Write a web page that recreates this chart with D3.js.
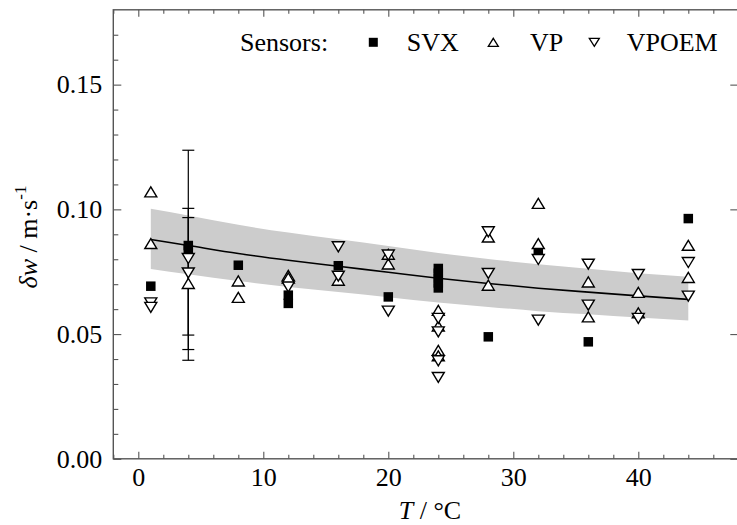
<!DOCTYPE html>
<html><head><meta charset="utf-8">
<script src="https://cdn.jsdelivr.net/npm/d3@7"></script>
<style>
body{margin:0;background:#fff}
svg{display:block}
svg text{font-family:'Liberation Serif','Times New Roman',Times,serif !important}
</style>
</head><body>
<svg id="c" width="737" height="525"></svg>
<script>
// ---------- data ----------
const fitT     = [1, 4, 8, 12, 16, 20, 24, 28, 32, 36, 40, 44];
const fitLine  = [0.0879,0.0855,0.0823,0.0796,0.0772,0.0748,0.0724,0.0703,0.0684,0.0668,0.0653,0.0639];
const fitUpper = [0.1002,0.0975,0.0938,0.0907,0.0880,0.0853,0.0825,0.0801,0.0780,0.0762,0.0744,0.0730];
const fitLower = [0.0761,0.0740,0.0713,0.0689,0.0669,0.0648,0.0627,0.0609,0.0592,0.0579,0.0566,0.0554];

const svx = [[1,0.0692],[4,0.0855],[4,0.0840],[8,0.0776],[12,0.0656],[12,0.0623],[16,0.0774],[20,0.0649],
  [24,0.0763],[24,0.0744],[24,0.0724],[24,0.0705],[24,0.0685],[28,0.0489],[32,0.0830],[36,0.0469],[44,0.0963]];
const vp = [[1,0.1070],[1,0.0863],[4,0.0703],[8,0.0713],[8,0.0647],[12,0.0735],[12,0.0725],[16,0.0716],
  [20,0.0820],[20,0.0781],[24,0.0595],[24,0.0532],[24,0.0435],[24,0.0413],[28,0.0889],[28,0.0696],
  [32,0.1024],[32,0.0863],[36,0.0709],[36,0.0569],[40,0.0667],[40,0.0585],[44,0.0856],[44,0.0727]];
const vpoem = [[1,0.0625],[1,0.0607],[4,0.0803],[4,0.0745],[12,0.0689],[16,0.0850],[16,0.0732],
  [20,0.0817],[20,0.0592],[24,0.0563],[24,0.0509],[24,0.0393],[24,0.0326],[28,0.0910],[28,0.0743],
  [32,0.0799],[32,0.0556],[36,0.0780],[36,0.0616],[40,0.0739],[40,0.0563],[44,0.0787],[44,0.0652]];

const errT    = [4, 4, 4];
const errLow  = [0.0395, 0.0438, 0.0496];
const errHigh = [0.1237, 0.1004, 0.0967];

const xTicks = [0, 10, 20, 30, 40];
const xMinor = [-2,2,4,6,8,12,14,16,18,22,24,26,28,32,34,36,38,42,44,46,48];
const yTicks = [0.00, 0.05, 0.10, 0.15];
const yMinor = [0.01,0.02,0.03,0.04,0.06,0.07,0.08,0.09,0.11,0.12,0.13,0.14,0.16,0.17];

const legendLabels = ["SVX", "VP", "VPOEM"];

// ---------- chart ----------
const FONT = "'Liberation Serif','Times New Roman',Times,serif";
const svg = d3.select("#c");
const x = d3.scaleLinear().domain([-2, 48]).range([113.3, 738.3]);
const y = d3.scaleLinear().domain([0, 0.18]).range([458.8, 9.8]);
const FS = 26;
const axisColor = "#555";

// band
const bandData = fitT.map((t, i) => ({t, lo: fitLower[i], hi: fitUpper[i], m: fitLine[i]}));
svg.append("path").datum(bandData)
  .attr("fill", "#cccccc")
  .attr("d", d3.area().x(d => x(d.t)).y0(d => y(d.lo)).y1(d => y(d.hi)).curve(d3.curveMonotoneX));
svg.append("path").datum(bandData)
  .attr("fill", "none").attr("stroke", "#000").attr("stroke-width", 1.6)
  .attr("d", d3.line().x(d => x(d.t)).y(d => y(d.m)).curve(d3.curveMonotoneX));

// error bars
const errData = errT.map((t, i) => ({t, lo: errLow[i], hi: errHigh[i]}));
const eg = svg.append("g").attr("stroke", "#000").attr("stroke-width", 1.2);
errData.forEach(d => {
  eg.append("line").attr("x1", x(d.t)).attr("x2", x(d.t)).attr("y1", y(d.lo)).attr("y2", y(d.hi));
  [d.lo, d.hi].forEach(v => eg.append("line")
    .attr("x1", x(d.t) - 6).attr("x2", x(d.t) + 6).attr("y1", y(v)).attr("y2", y(v)));
});

// symbols
const upPath = "M0,-5L6,5L-6,5Z";
const downPath = "M0,5L6,-5L-6,-5Z";
const sq = 9.5;
svg.append("g").selectAll("rect").data(svx).join("rect")
  .attr("x", d => x(d[0]) - sq/2).attr("y", d => y(d[1]) - sq/2)
  .attr("width", sq).attr("height", sq).attr("fill", "#000");
svg.append("g").selectAll("path").data(vp).join("path")
  .attr("transform", d => `translate(${x(d[0])},${y(d[1])})`)
  .attr("d", upPath).attr("fill", "#fff").attr("stroke", "#000").attr("stroke-width", 1.4);
svg.append("g").selectAll("path").data(vpoem).join("path")
  .attr("transform", d => `translate(${x(d[0])},${y(d[1])})`)
  .attr("d", downPath).attr("fill", "#fff").attr("stroke", "#000").attr("stroke-width", 1.4);

// axes
function styleAxis(g, labels) {
  g.attr("font-family", FONT).attr("font-size", FS);
  g.select(".domain").remove();
  g.selectAll(".tick line").attr("stroke", axisColor).attr("stroke-width", 1.1);
  g.selectAll("text").style("font-family", FONT).attr("font-size", FS).attr("fill", "#000");
  if (!labels) g.selectAll("text").remove();
}
const y0 = y(0), y1 = y(0.18), x0 = x(-2), x1 = x(48);
svg.append("g").attr("transform", `translate(0,${y0})`)
  .call(d3.axisBottom(x).tickValues(xMinor).tickSize(-4)).call(g => styleAxis(g, false));
svg.append("g").attr("transform", `translate(0,${y0})`)
  .call(d3.axisBottom(x).tickValues(xTicks).tickSize(-7).tickPadding(9).tickFormat(d3.format("d")))
  .call(g => styleAxis(g, true));
svg.append("g").attr("transform", `translate(0,${y1})`)
  .call(d3.axisTop(x).tickValues(xMinor).tickSize(-4)).call(g => styleAxis(g, false));
svg.append("g").attr("transform", `translate(0,${y1})`)
  .call(d3.axisTop(x).tickValues(xTicks).tickSize(-7)).call(g => styleAxis(g, false));
svg.append("g").attr("transform", `translate(${x0},0)`)
  .call(d3.axisLeft(y).tickValues(yMinor).tickSize(-5)).call(g => styleAxis(g, false));
svg.append("g").attr("transform", `translate(${x0},0)`)
  .call(d3.axisLeft(y).tickValues(yTicks).tickSize(-8).tickPadding(11).tickFormat(d3.format(".2f")))
  .call(g => styleAxis(g, true));
svg.append("g").attr("transform", `translate(${x1},0)`)
  .call(d3.axisRight(y).tickValues(yTicks).tickSize(-8)).call(g => styleAxis(g, false));

// frame
svg.append("rect").attr("x", x0).attr("y", y1).attr("width", x1 - x0).attr("height", y0 - y1)
  .attr("fill", "none").attr("stroke", axisColor).attr("stroke-width", 1.4);

// axis titles
const xt = svg.append("text").attr("x", 430).attr("y", 519).attr("text-anchor", "middle")
  .attr("font-size", FS).style("font-family", FONT);
xt.append("tspan").attr("font-style", "italic").text("T");
xt.append("tspan").text(" / °C");

const yt = svg.append("text").attr("transform", "translate(37,237) rotate(-90)")
  .attr("text-anchor", "middle").attr("font-size", FS).style("font-family", FONT);
yt.append("tspan").attr("font-style", "italic").text("δw");
yt.append("tspan").text(" / m·s");
yt.append("tspan").attr("font-size", 17).attr("dy", -11).text("-1");

// legend
const lg = svg.append("g");
lg.append("text").attr("x", 240).attr("y", 50.5).attr("font-size", FS).style("font-family", FONT).text("Sensors:");
const legY = 42.3;
lg.append("rect").attr("x", 373.3 - 4.5).attr("y", legY - 4.5).attr("width", 9).attr("height", 9).attr("fill", "#000");
lg.append("path").attr("transform", `translate(493.3,${legY})`).attr("d", "M0,-4L5,4L-5,4Z")
  .attr("fill", "#fff").attr("stroke", "#000").attr("stroke-width", 1.3);
lg.append("path").attr("transform", `translate(594.3,${legY})`).attr("d", "M0,4L5,-4L-5,-4Z")
  .attr("fill", "#fff").attr("stroke", "#000").attr("stroke-width", 1.3);
[406.7, 530, 626.7].forEach((lx, i) =>
  lg.append("text").attr("x", lx).attr("y", 50.5).attr("font-size", FS).style("font-family", FONT).text(legendLabels[i]));
</script>
</body></html>
